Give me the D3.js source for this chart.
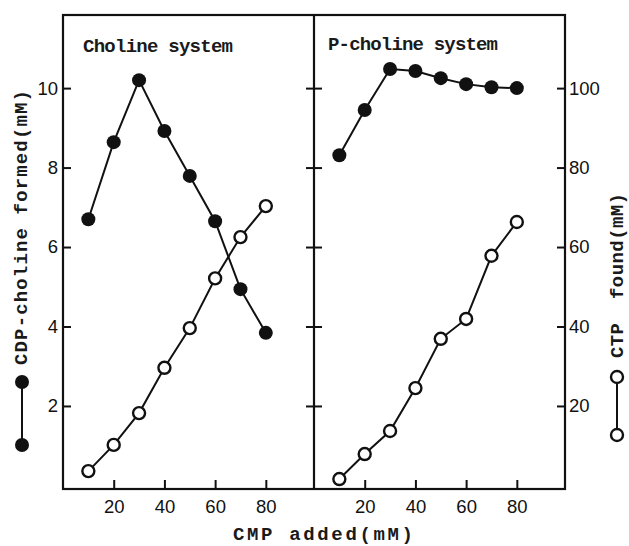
<!DOCTYPE html>
<html>
<head>
<meta charset="utf-8">
<script src="https://cdn.jsdelivr.net/npm/d3@7/dist/d3.min.js"></script>
<style>
  body { margin: 0; background: #fff; }
  .tick text { font-family: "Liberation Sans", Arial, sans-serif; font-size: 18.5px; fill: #111; }
  .mono { font-family: "Courier New", "Liberation Mono", monospace; font-size: 19px; font-weight: bold; fill: #1a1a1a; white-space: pre; }
</style>
</head>
<body>
<svg id="chart"></svg>
<script>
// CMP added (mM)
var cmp = [10, 20, 30, 40, 50, 60, 70, 80];

// choline system
var cholineCdp = [6.70, 8.64, 10.20, 8.92, 7.79, 6.65, 4.94, 3.84];   // CDP-choline formed (mM)
var cholineCtp = [3.6, 10.2, 18.2, 29.6, 39.6, 52.1, 62.5, 70.3];     // CTP found (mM)

// P-choline system
var pcholineCdp = [8.31, 9.45, 10.48, 10.43, 10.25, 10.10, 10.02, 10.00];
var pcholineCtp = [1.6, 7.9, 13.7, 24.5, 36.9, 41.9, 57.8, 66.3];

var xTicks = [20, 40, 60, 80],
    cdpTicks = [2, 4, 6, 8, 10],
    ctpTicks = [20, 40, 60, 80, 100];

(function() {
  var panels = [
    { title: "Choline system", cdp: cholineCdp, ctp: cholineCtp },
    { title: "P-choline system", cdp: pcholineCdp, ctp: pcholineCtp }
  ];

  // note: "top" is taken by window.top, so plot box edges get their own names
  var w = 629, h = 546,
      boxLeft = 63, boxTop = 15, panelW = 251, boxBottom = 489;

  var svg = d3.select("#chart").attr("width", w).attr("height", h);

  var y = d3.scaleLinear().domain([-0.09, 11.84]).range([boxBottom, boxTop]);
  var y2 = d3.scaleLinear().domain([-0.9, 118.4]).range([boxBottom, boxTop]);

  panels.forEach(function(p, i) {
    var x0 = boxLeft + i * panelW;
    var x = d3.scaleLinear().domain([0, 99]).range([x0, x0 + panelW]);
    var g = svg.append("g");

    // x axis, ticks pointing in
    g.append("g")
      .attr("transform", "translate(0," + boxBottom + ")")
      .call(d3.axisBottom(x).tickValues(xTicks).tickSizeInner(-9).tickSizeOuter(0).tickPadding(11))
      .call(function(a) { a.select(".domain").remove(); })
      .selectAll("line").attr("stroke", "#111").attr("stroke-width", 2);

    // CDP-choline (filled) on left scale, CTP (open) on right scale
    var cdpPts = cmp.map(function(c, j) { return [x(c), y(p.cdp[j])]; });
    var ctpPts = cmp.map(function(c, j) { return [x(c), y2(p.ctp[j])]; });

    g.append("path")
      .attr("d", d3.line()(cdpPts))
      .attr("fill", "none").attr("stroke", "#111").attr("stroke-width", 2);
    g.append("path")
      .attr("d", d3.line()(ctpPts))
      .attr("fill", "none").attr("stroke", "#111").attr("stroke-width", 2);

    g.selectAll(".cdp").data(cdpPts).enter().append("circle")
      .attr("class", "cdp")
      .attr("cx", function(d) { return d[0]; })
      .attr("cy", function(d) { return d[1]; })
      .attr("r", 7)
      .attr("fill", "#111");

    g.selectAll(".ctp").data(ctpPts).enter().append("circle")
      .attr("class", "ctp")
      .attr("cx", function(d) { return d[0]; })
      .attr("cy", function(d) { return d[1]; })
      .attr("r", 6)
      .attr("fill", "#fff")
      .attr("stroke", "#111")
      .attr("stroke-width", 2.4);

    g.append("text")
      .attr("class", "mono")
      .attr("x", x0 + (i ? 14 : 20))
      .attr("y", i ? 50 : 52)
      .attr("textLength", i ? 170 : 150)
      .attr("lengthAdjust", "spacing")
      .text(p.title);
  });

  // left axis: ticks inward, labels outside
  svg.append("g")
    .attr("transform", "translate(" + boxLeft + ",0)")
    .call(d3.axisLeft(y).tickValues(cdpTicks).tickSizeInner(-8).tickSizeOuter(0).tickPadding(5))
    .call(function(a) { a.select(".domain").remove(); })
    .selectAll("line").attr("stroke", "#111").attr("stroke-width", 2);

  // divider ticks on both sides
  [d3.axisLeft(y), d3.axisRight(y)].forEach(function(ax) {
    svg.append("g")
      .attr("transform", "translate(" + (boxLeft + panelW) + ",0)")
      .call(ax.tickValues(cdpTicks).tickSizeInner(8).tickSizeOuter(0).tickFormat(""))
      .call(function(a) { a.select(".domain").remove(); })
      .selectAll("line").attr("stroke", "#111").attr("stroke-width", 2);
  });

  // right axis for CTP
  svg.append("g")
    .attr("transform", "translate(" + (boxLeft + 2 * panelW) + ",0)")
    .call(d3.axisRight(y2).tickValues(ctpTicks).tickSizeInner(-8).tickSizeOuter(0).tickPadding(4))
    .call(function(a) { a.select(".domain").remove(); })
    .selectAll("line").attr("stroke", "#111").attr("stroke-width", 2);

  // frame + divider
  svg.append("rect")
    .attr("x", boxLeft).attr("y", boxTop)
    .attr("width", 2 * panelW).attr("height", boxBottom - boxTop)
    .attr("fill", "none").attr("stroke", "#111").attr("stroke-width", 2.2);
  svg.append("line")
    .attr("x1", boxLeft + panelW).attr("x2", boxLeft + panelW)
    .attr("y1", boxTop).attr("y2", boxBottom)
    .attr("stroke", "#111").attr("stroke-width", 2.2);

  // axis titles
  svg.append("text")
    .attr("class", "mono")
    .attr("x", 233).attr("y", 540)
    .attr("textLength", 180).attr("lengthAdjust", "spacing")
    .text("CMP added(mM)");

  svg.append("text")
    .attr("class", "mono")
    .attr("transform", "translate(27,365) rotate(-90)")
    .attr("textLength", 275).attr("lengthAdjust", "spacing")
    .text("CDP-choline formed(mM)");

  svg.append("text")
    .attr("class", "mono")
    .attr("transform", "translate(623,358) rotate(-90)")
    .attr("textLength", 165).attr("lengthAdjust", "spacing")
    .text("CTP  found(mM)");

  // legend keys beside the titles
  var keys = [
    { x: 22, y1: 382, y2: 445, open: false },
    { x: 617, y1: 377, y2: 435, open: true }
  ];
  keys.forEach(function(k) {
    svg.append("line")
      .attr("x1", k.x).attr("x2", k.x).attr("y1", k.y1).attr("y2", k.y2)
      .attr("stroke", "#111").attr("stroke-width", 2);
    svg.selectAll(null).data([k.y1, k.y2]).enter().append("circle")
      .attr("cx", k.x).attr("cy", function(d) { return d; })
      .attr("r", k.open ? 6 : 7)
      .attr("fill", k.open ? "#fff" : "#111")
      .attr("stroke", "#111")
      .attr("stroke-width", k.open ? 2.4 : 0);
  });
})();
</script>
</body>
</html>
